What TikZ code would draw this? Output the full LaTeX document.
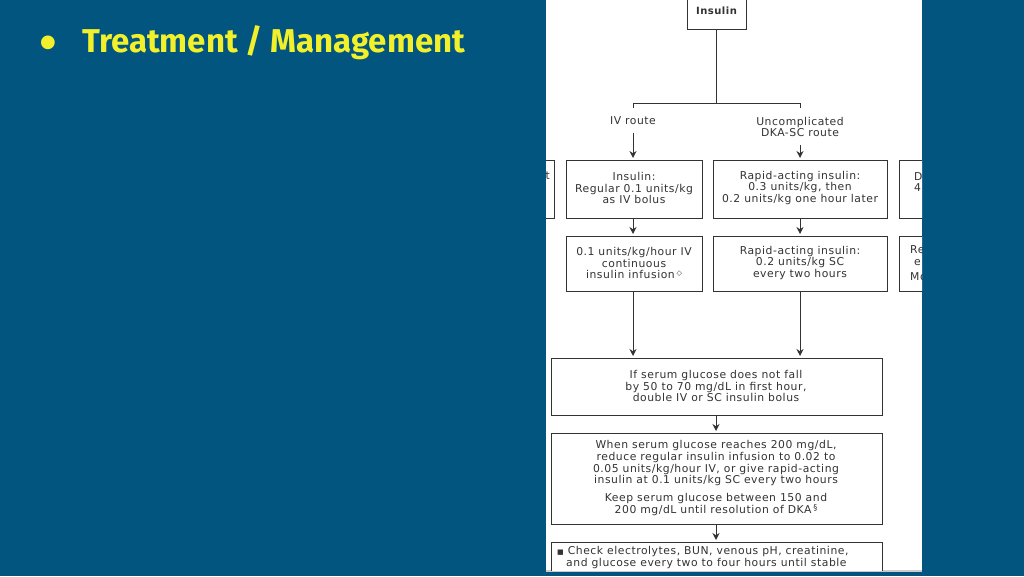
\documentclass[tikz,border=0pt]{standalone}
\usepackage{fontspec}
\setmainfont{DejaVu Sans}[LetterSpace=5]
\newfontfamily\titlefont{Fira Sans}
\newfontfamily\symfont{DejaVu Sans}
\usetikzlibrary{arrows.meta}
\definecolor{bg}{HTML}{02557F}
\definecolor{ttl}{HTML}{F2F02A}
\definecolor{ln}{HTML}{333333}
\tikzset{
  bx/.style={draw=ln, line width=1pt, fill=white},
  tx/.style={font=\fontsize{10.8}{11.8}\selectfont, align=center, text=ln, inner sep=0pt},
  arr/.style={draw=ln, line width=1pt, -{Stealth[length=7pt,width=7pt]}},
  ln/.style={draw=ln, line width=1pt}
}
\begin{document}
\begin{tikzpicture}[x=1pt,y=-1pt]
\fill[bg] (0,0) rectangle (1024,576);
\useasboundingbox (0,0) rectangle (1024,576);
\node[text=ttl, font=\symfont\fontsize{18}{20}\selectfont, anchor=center] (bul) at (48,43) {●};
\node[text=ttl, font=\titlefont\fontsize{33}{36}\selectfont\bfseries, anchor=west, inner sep=0pt] (title) at (82,43) {Treatment / Management};
\fill[white] (546,0) rectangle (922,570);
\fill[gray!40] (546,570) rectangle (922,572);
\begin{scope}
\clip (546,0) rectangle (922,570);
% boxes
\draw[bx] (687,-5) rectangle (746,29); \node[tx,font=\fontsize{10}{11}\selectfont\bfseries] (ins) at (716.5,11) {Insulin};
\coordinate (insb) at (716,29);
\coordinate (jn) at (716,103);
\draw[ln] (insb) -- (jn);
\draw[ln] (633,108) -- (633,103) -- (800,103) -- (800,108);
\node[tx] (iv) at (633,121) {IV route};
\node[tx] (sc) at (800,127) {Uncomplicated\\DKA-SC route};
\draw[bx] (566,160) rectangle (702,218); \node[tx] (b1) at (634,188) {Insulin:\\Regular 0.1 units/kg\\as IV bolus};
\draw[bx] (713,160) rectangle (887,218); \node[tx] (b2) at (800,188) {Rapid-acting insulin:\\0.3 units/kg, then\\0.2 units/kg one hour later};
\draw[bx] (520,160) rectangle (554,218); \node[tx,anchor=east] (l1) at (550,176) {t};
\draw[bx] (899,160) rectangle (960,218); \node[tx,anchor=west,align=left] (r1) at (914,182) {D\\4};
\draw[bx] (566,236) rectangle (702,291); \node[tx] (b3) at (634,263) {0.1 units/kg/hour IV\\continuous\\insulin infusion\,\raisebox{3pt}{\fontsize{7}{7}\selectfont◇}};
\draw[bx] (713,236) rectangle (887,291); \node[tx] (b4) at (800,263) {Rapid-acting insulin:\\0.2 units/kg SC\\every two hours};
\draw[bx] (899,236) rectangle (960,291); \node[tx,anchor=west,align=left] (r2) at (910,263) {Re\\\hspace*{4pt}e\\[3pt]Mo};
\draw[bx] (551,358) rectangle (882,415); \node[tx] (b5) at (716,386) {If serum glucose does not fall\\by 50 to 70 mg/dL in first hour,\\double IV or SC insulin bolus};
\draw[bx] (551,433) rectangle (882,524); \node[tx] (b6) at (716,478) {When serum glucose reaches 200 mg/dL,\\reduce regular insulin infusion to 0.02 to\\0.05 units/kg/hour IV, or give rapid-acting\\insulin at 0.1 units/kg SC every two hours\\[6pt]Keep serum glucose between 150 and\\200 mg/dL until resolution of DKA\,\raisebox{3pt}{\fontsize{8}{8}\selectfont§}};
\draw[bx] (551,542) rectangle (882,600); \node[tx,anchor=north west,align=left] (b7) at (557,546) {{\fontsize{7}{7}\selectfont■}\ Check electrolytes, BUN, venous pH, creatinine,\\\hspace*{9pt}and glucose every two to four hours until stable};
% arrows
\draw[arr] (633,133) -- (633,158);
\draw[arr] (800,145) -- (800,158);
\draw[arr] (633,218) -- (633,234);
\draw[arr] (800,218) -- (800,234);
\draw[arr] (633,291) -- (633,356);
\draw[arr] (800,291) -- (800,356);
\draw[arr] (716,415) -- (716,431);
\draw[arr] (716,524) -- (716,540);
\end{scope}
\end{tikzpicture}
\end{document}
